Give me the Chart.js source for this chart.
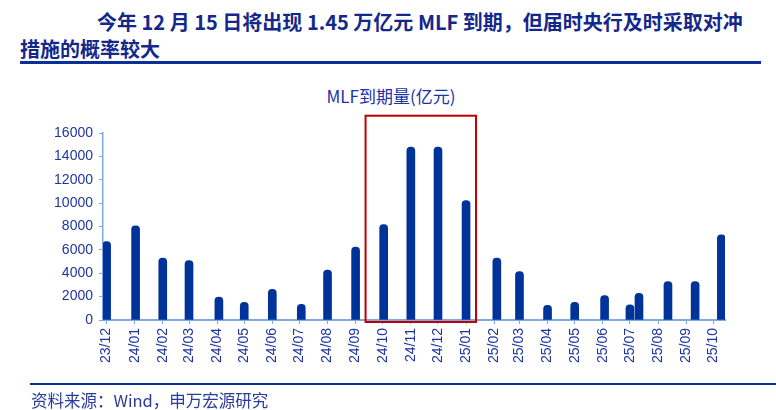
<!DOCTYPE html>
<html>
<head>
<meta charset="utf-8">
<script src="https://cdn.jsdelivr.net/npm/chart.js"></script>
<style>
  body { margin: 0; width: 776px; height: 410px; background: #fff; position: relative; overflow: hidden; font-family: "Noto Sans CJK SC", sans-serif; }
  .head { position: absolute; font-size: 20px; font-weight: 700; color: #14288c; white-space: nowrap; line-height: 28px; }
  #rule1 { position: absolute; left: 20px; top: 61px; width: 741px; height: 3px; background: #0a2e9a; }
  #rule2 { position: absolute; left: 30px; top: 383px; width: 746px; height: 2px; background: #0a2e9a; }
  #ctitle { position: absolute; left: 0; width: 782px; top: 83px; text-align: center; font-size: 17px; color: #1a33a6; }
  #src { position: absolute; left: 31px; top: 389px; font-size: 16.5px; color: #2a3c9c; line-height: 22px; }
  canvas { position: absolute; left: 0; top: 0; }
</style>
</head>
<body>
<div class="head" style="left:97px;top:8px">今年 12 月 15 日将出现 1.45 万亿元 MLF 到期，但届时央行及时采取对冲</div>
<div class="head" style="left:20px;top:35px">措施的概率较大</div>
<div id="rule1"></div>
<div id="ctitle">MLF到期量(亿元)</div>
<canvas id="myChart" width="776" height="410"></canvas>
<div id="rule2"></div>
<div id="src">资料来源：Wind，申万宏源研究</div>
<script>
// x tick labels (one per month, tick sits on the 15th)
let tickLabels = ['23/12','24/01','24/02','24/03','24/04','24/05','24/06','24/07','24/08','24/09','24/10','24/11',
                  '24/12','25/01','25/02','25/03','25/04','25/05','25/06','25/07','25/08','25/09','25/10'];
// MLF maturity dates and amounts (亿元)
let matDates = ['2023-12-15','2024-01-16','2024-02-15','2024-03-15','2024-04-17','2024-05-15','2024-06-15',
                '2024-07-17','2024-08-15','2024-09-15','2024-10-16','2024-11-15','2024-12-15','2025-01-15',
                '2025-02-18','2025-03-15','2025-04-15','2025-05-15','2025-06-17','2025-07-15','2025-07-25',
                '2025-08-26','2025-09-25','2025-10-24'];
let mlfValues = [6700, 8050, 5290, 5080, 1970, 1510, 2630, 1340, 4280, 6230, 8170, 14800, 14800, 10220,
                 5290, 4140, 1260, 1510, 2080, 1290, 2290, 3280, 3280, 7280];
let yTicks = [0, 2000, 4000, 6000, 8000, 10000, 12000, 14000, 16000];

function dayNum(s) {
    let p = s.split('-');
    return Date.UTC(+p[0], +p[1] - 1, +p[2]) / 86400000;
}
function labelDate(l) {
    return '20' + l.slice(0, 2) + '-' + l.slice(3) + '-15';
}

let tickValues = tickLabels.map(l => dayNum(labelDate(l)));
let axisBlue = '#7ea9e1';
let textBlue = '#1f36a0';

// red box around the 24/10 - 25/01 peak
let boxPlugin = {
    id: 'box',
    afterDatasetsDraw(chart) {
        let x = chart.scales.x, y = chart.scales.y, ctx = chart.ctx;
        let l = x.getPixelForValue(dayNum('2024-09-26'));
        let r = x.getPixelForValue(dayNum('2025-01-26'));
        let t = y.getPixelForValue(17480);
        let b = y.getPixelForValue(0) + 2;
        ctx.save();
        ctx.strokeStyle = '#c00000';
        ctx.lineWidth = 2;
        ctx.strokeRect(l, t, r - l, b - t);
        ctx.restore();
    }
};

let myChart = document.getElementById('myChart').getContext('2d');

let mlfChart = new Chart(myChart, {
    type: 'bar',
    data: {
        datasets: [{
            label: 'MLF到期量',
            data: matDates.map((d, i) => ({ x: dayNum(d), y: mlfValues[i] })),
            backgroundColor: '#00339a',
            barThickness: 8,
            borderRadius: { topLeft: 4, topRight: 4, bottomLeft: 0, bottomRight: 0 },
            borderSkipped: 'bottom'
        }]
    },
    options: {
        responsive: false,
        animation: false,
        layout: { padding: { left: 0, right: 51, top: 133, bottom: 0 } },
        plugins: { legend: { display: false }, tooltip: { enabled: false }, title: { display: false } },
        scales: {
            x: {
                type: 'linear',
                offset: false,
                min: dayNum('2023-12-11'),
                max: dayNum('2025-10-28'),
                afterBuildTicks: s => { s.ticks = tickValues.map(v => ({ value: v })); },
                afterFit: s => { s.height = 90; },
                ticks: {
                    autoSkip: false,
                    minRotation: 90,
                    maxRotation: 90,
                    padding: 4,
                    color: textBlue,
                    font: { family: '"Liberation Sans", Arial', size: 14 },
                    callback: v => tickLabels[tickValues.indexOf(v)]
                },
                grid: { drawOnChartArea: false, offset: false, color: axisBlue, tickLength: 4 },
                border: { color: axisBlue, width: 2 }
            },
            y: {
                min: 0,
                max: 16000,
                afterBuildTicks: s => { s.ticks = yTicks.map(v => ({ value: v })); },
                afterFit: s => { s.width = 103; },
                ticks: {
                    padding: 6,
                    color: textBlue,
                    font: { family: '"Liberation Sans", Arial', size: 14 },
                    callback: v => String(v)
                },
                grid: { drawOnChartArea: false, color: axisBlue, tickLength: 4 },
                border: { color: axisBlue, width: 1.5 }
            }
        }
    },
    plugins: [boxPlugin]
});
</script>
</body>
</html>
